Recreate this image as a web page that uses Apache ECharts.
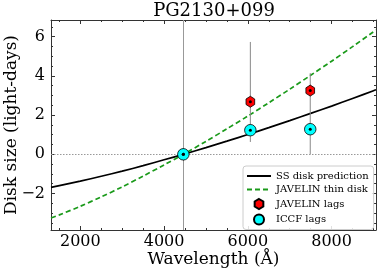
<!DOCTYPE html>
<html>
<head>
<meta charset="utf-8">
<script src="https://cdn.jsdelivr.net/npm/echarts@6/dist/echarts.min.js"></script>
<style>html,body{margin:0;padding:0;background:#fff}#c{width:381px;height:273px}</style>
</head>
<body>
<div id="c"></div>
<script>
// ---- data ----
const titleText = 'PG2130+099';
const wavelengths = [1300, 1500, 2000, 2500, 3000, 3500, 4000, 4460, 5000, 5500, 6000, 6500, 7000, 7500, 8000, 8500, 9000, 9060];
const ssDisk      = [-1.69, -1.60, -1.37, -1.12, -0.86, -0.58, -0.28, 0, 0.34, 0.67, 1.01, 1.36, 1.72, 2.09, 2.46, 2.85, 3.24, 3.29];
const javelinDisk = [-3.25, -3.09, -2.65, -2.17, -1.66, -1.11, -0.54, 0, 0.66, 1.30, 1.95, 2.63, 3.32, 4.03, 4.75, 5.49, 6.25, 6.34];
const lagWave     = [4460, 6060, 7490];
const javelinLags = [0, 2.68, 3.25];
const iccfLags    = [0, 1.23, 1.28];
const errWave     = [6060, 7490];
const errLow      = [0.63, 0.0];
const errHigh     = [5.73, 4.14];
const refWave = 4460;
const xRange = [1300, 9060];
const yRange = [-3.86, 6.85];
const xMajor = [2000, 4000, 6000, 8000];
const xMinor = [1500, 2500, 3000, 3500, 4500, 5000, 5500, 6500, 7000, 7500, 8500, 9000];
const yMajor = [-2, 0, 2, 4, 6];
const yMinor = [-3.5, -3, -2.5, -1.5, -1, -0.5, 0.5, 1, 1.5, 2.5, 3, 3.5, 4.5, 5, 5.5, 6.5];
const seriesNames = ['SS disk prediction', 'JAVELIN thin disk', 'JAVELIN lags', 'ICCF lags'];

// ---- styles ----
const FONT = 'DejaVu Serif';
const FRAME = '#333';
const HEX = 'path://M0,-1 L0.866,-0.5 L0.866,0.5 L0,1 L-0.866,0.5 L-0.866,-0.5 Z';
const fmt = v => (v < 0 ? '\u2212' + Math.abs(v) : String(v));

function xAx(pos, ticks, len, labels, line) {
  return {
    type: 'value', position: pos, min: xRange[0], max: xRange[1], gridIndex: 0,
    axisLine: {show: line, onZero: false, lineStyle: {color: FRAME, width: 1}},
    axisTick: {show: true, inside: true, length: len, customValues: ticks, lineStyle: {color: FRAME, width: 1}},
    axisLabel: labels ? {show: true, customValues: ticks, fontFamily: FONT, fontSize: 16, color: '#000', margin: 4, formatter: fmt} : {show: false},
    splitLine: {show: false}
  };
}
function yAx(pos, ticks, len, labels, line) {
  return {
    type: 'value', position: pos, min: yRange[0], max: yRange[1], gridIndex: 0,
    axisLine: {show: line, onZero: false, lineStyle: {color: FRAME, width: 1}},
    axisTick: {show: true, inside: true, length: len, customValues: ticks, lineStyle: {color: FRAME, width: 1}},
    axisLabel: labels ? {show: true, customValues: ticks, fontFamily: FONT, fontSize: 16, color: '#000', margin: 6, formatter: fmt} : {show: false},
    splitLine: {show: false}
  };
}

const xAxes = [xAx('bottom', xMajor, 4, true, true), xAx('bottom', xMinor, 2, false, false),
               xAx('top', xMajor, 4, false, true), xAx('top', xMinor, 2, false, false)];
xAxes[0].name = 'Wavelength (\u00c5)';
xAxes[0].nameLocation = 'middle';
xAxes[0].nameGap = 21;
xAxes[0].nameMoveOverlap = false;
xAxes[0].nameTextStyle = {fontFamily: FONT, fontSize: 17, color: '#000'};
const yAxes = [yAx('left', yMajor, 4, true, true), yAx('left', yMinor, 2, false, false),
               yAx('right', yMajor, 4, false, true), yAx('right', yMinor, 2, false, false)];
yAxes[0].name = 'Disk size (light-days)';
yAxes[0].nameLocation = 'middle';
yAxes[0].nameGap = 31;
yAxes[0].nameRotate = 90;
yAxes[0].nameMoveOverlap = false;
yAxes[0].nameTextStyle = {fontFamily: FONT, fontSize: 17, color: '#000'};

const pts = (xs, ys) => xs.map((x, i) => [x, ys[i]]);
const hiddenSym = {color: 'rgba(0,0,0,0)', borderColor: 'rgba(0,0,0,0)', borderWidth: 0, opacity: 0};

const option = {
  animation: false,
  backgroundColor: '#fff',
  graphic: [{
    type: 'text', x: 214, y: 2, silent: true,
    style: {text: titleText, fontFamily: FONT, fontSize: 18, fill: '#000', align: 'center', verticalAlign: 'top'}
  }],
  grid: {left: 51, right: 5, top: 20, bottom: 43, containLabel: false, outerBoundsMode: 'none'},
  xAxis: xAxes,
  yAxis: yAxes,
  legend: {
    orient: 'vertical', left: 243, top: 166,
    data: [
      {name: seriesNames[0], itemStyle: hiddenSym},
      {name: seriesNames[1], itemStyle: hiddenSym},
      {name: seriesNames[2], icon: HEX},
      {name: seriesNames[3], icon: 'circle'}
    ],
    itemWidth: 24, itemHeight: 10, itemGap: 3.5,
    padding: [5, 5, 4, 3],
    backgroundColor: 'rgba(255,255,255,0.85)',
    borderColor: '#ccc', borderWidth: 1, borderRadius: 3,
    textStyle: {fontFamily: FONT, fontSize: 10, color: '#000'}
  },
  series: [
    {
      name: 'refs', type: 'line', data: [], silent: true,
      markLine: {silent: true, symbol: 'none', label: {show: false}, animation: false,
        data: [
          {xAxis: refWave, lineStyle: {color: '#999', width: 1, type: 'solid'}},
          {yAxis: 0, lineStyle: {color: '#999', width: 1, type: [1.5, 1.5]}}
        ]}
    },
    {
      name: seriesNames[0], type: 'line', data: pts(wavelengths, ssDisk), smooth: 0.3,
      symbol: 'none', lineStyle: {color: '#000', width: 1.7}, itemStyle: {color: '#000'}, z: 3
    },
    {
      name: seriesNames[1], type: 'line', data: pts(wavelengths, javelinDisk), smooth: 0.3,
      symbol: 'none', lineStyle: {color: '#1a9a1a', width: 1.7, type: [5, 3]}, itemStyle: {color: '#1a9a1a'}, z: 3
    },
    {
      name: 'errors', type: 'custom', z: 4, silent: true,
      data: errWave.map((x, i) => [x, errLow[i], errHigh[i]]),
      renderItem: (params, api) => {
        const a = api.coord([api.value(0), api.value(1)]);
        const b = api.coord([api.value(0), api.value(2)]);
        return {type: 'line', shape: {x1: a[0], y1: a[1], x2: b[0], y2: b[1]},
          style: {stroke: '#888', lineWidth: 1}};
      }
    },
    {
      name: seriesNames[2], type: 'scatter', data: pts(lagWave, javelinLags),
      symbol: HEX, symbolSize: [10, 11], symbolKeepAspect: true,
      itemStyle: {color: '#ff0000', borderColor: '#000', borderWidth: 0.8, opacity: 1}, z: 5
    },
    {
      name: seriesNames[3], type: 'scatter', data: pts(lagWave, iccfLags),
      symbol: 'circle', symbolSize: 11.5,
      itemStyle: {color: '#00ffff', borderColor: '#000', borderWidth: 0.8, opacity: 1}, z: 6
    },
    {
      name: 'centres', type: 'scatter', silent: true,
      data: pts(lagWave, javelinLags).concat(pts(lagWave, iccfLags)),
      symbol: 'circle', symbolSize: 3, itemStyle: {color: '#000', opacity: 1}, z: 7
    }
  ]
};
const chart = echarts.init(document.getElementById('c'), null, {renderer: 'canvas'});
chart.setOption(option);
</script>
</body>
</html>
